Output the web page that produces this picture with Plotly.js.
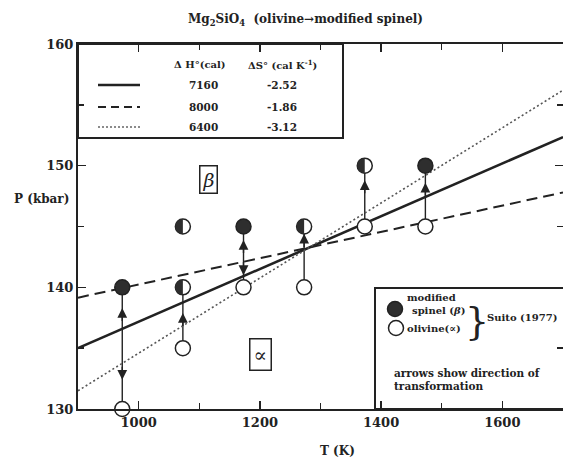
<!DOCTYPE html>
<html><head><meta charset="utf-8">
<script src="https://cdn.plot.ly/plotly-3.0.1.min.js"></script>
<style>body{margin:0;background:#fff}#chart{width:563px;height:459px}</style>
</head><body><div id="chart"></div>
<script>
// ---- data ----
const lineT = [900, 1700];
const solidP = [135.0, 152.35];
const dashedP = [139.15, 147.8];
const dottedP = [131.5, 156.2];

const betaT = [973, 1173, 1473];
const betaP = [140, 145, 150];
const halfT = [1073, 1073, 1273, 1373];
const halfP = [145, 140, 145, 150];
const alphaT = [973, 1073, 1173, 1273, 1373, 1473];
const alphaP = [130, 135, 140, 140, 145, 145];

const connT = [973, 1073, 1173, 1273, 1373, 1473];
const connLo = [130, 135, 140, 140, 145, 145];
const connHi = [140, 140, 145, 145, 150, 150];

const arrowT = [973, 973, 1073, 1173, 1173, 1273, 1373, 1473];
const arrowTipP = [138.3, 132.4, 137.9, 143.9, 141.0, 144.4, 148.8, 148.6];
const arrowDir = ['up', 'down', 'up', 'up', 'down', 'up', 'up', 'up'];

const legendH = ['7160', '8000', '6400'];
const legendS = ['-2.52', '-1.86', '-3.12'];
const xTickVals = [1000, 1200, 1400, 1600];
const yTickVals = [130, 140, 150, 160];

// ---- styling helpers ----
const INK = '#222';
const FONT = 'DejaVu Serif';
const W = 563, H = 459, L = 78, R = 0, T = 44, B = 50;
const px = x => (x - L) / (W - L - R);
const py = y => (H - B - y) / (H - T - B);
const R0 = 7.5;

const connX = [], connY = [];
connT.forEach((t, i) => { connX.push(t, t, null); connY.push(connLo[i], connHi[i], null); });

const traces = [
  {x: connX, y: connY, mode: 'lines', line: {color: INK, width: 1.4}, hoverinfo: 'skip'},
  {x: lineT, y: solidP, mode: 'lines', line: {color: INK, width: 2.6}},
  {x: lineT, y: dashedP, mode: 'lines', line: {color: INK, width: 2, dash: '11px,6px'}},
  {x: lineT, y: dottedP, mode: 'lines', line: {color: '#555', width: 1.6, dash: '2px,2.5px'}},
  {x: alphaT, y: alphaP, mode: 'markers', cliponaxis: false,
   marker: {symbol: 'circle', size: 2 * R0, color: '#fff', line: {color: INK, width: 1.5}}},
  {x: halfT, y: halfP, mode: 'markers', cliponaxis: false,
   marker: {symbol: 'circle', size: 2 * R0, color: '#fff', line: {color: INK, width: 1.5}}},
  {x: betaT, y: betaP, mode: 'markers', cliponaxis: false,
   marker: {symbol: 'circle', size: 2 * R0, color: '#2e2e2e', line: {color: INK, width: 1.5}}}
];

const k = 0.5523 * R0;
const halfPath = `M0,${R0} C${-k},${R0} ${-R0},${k} ${-R0},0 C${-R0},${-k} ${-k},${-R0} 0,${-R0} Z`;

const shapes = [];
halfT.forEach((t, i) => {
  shapes.push({type: 'path', xref: 'x', yref: 'y', xsizemode: 'pixel', ysizemode: 'pixel',
    xanchor: t, yanchor: halfP[i], path: halfPath, fillcolor: '#2e2e2e', line: {width: 0}, layer: 'above'});
});
// top-left legend box
shapes.push({type: 'rect', xref: 'paper', yref: 'paper', x0: px(78), x1: px(343), y0: py(138), y1: py(44),
  line: {color: INK, width: 2}, fillcolor: '#fff', layer: 'below'});
const rowY = [85, 107, 127];
const rowDash = ['solid', '8px,5px', '2px,2px'];
const rowW = [2.6, 2, 1.4];
const rowC = [INK, INK, '#666'];
rowY.forEach((y, i) => {
  shapes.push({type: 'line', xref: 'paper', yref: 'paper', x0: px(98), x1: px(140), y0: py(y), y1: py(y),
    line: {color: rowC[i], width: rowW[i], dash: rowDash[i]}});
});
// bottom-right legend box
shapes.push({type: 'rect', xref: 'paper', yref: 'paper', x0: px(375), x1: 1.2, y0: 0, y1: py(288),
  line: {color: INK, width: 2}, fillcolor: 'rgba(0,0,0,0)', layer: 'above'});
shapes.push({type: 'circle', xref: 'paper', yref: 'paper', xsizemode: 'pixel', ysizemode: 'pixel',
  xanchor: px(395), yanchor: py(309), x0: -R0, x1: R0, y0: -R0, y1: R0, fillcolor: '#2e2e2e', line: {color: INK, width: 1.5}});
shapes.push({type: 'circle', xref: 'paper', yref: 'paper', xsizemode: 'pixel', ysizemode: 'pixel',
  xanchor: px(396), yanchor: py(328), x0: -R0, x1: R0, y0: -R0, y1: R0, fillcolor: '#fff', line: {color: INK, width: 1.5}});

const annotations = [];
arrowT.forEach((t, i) => {
  const up = arrowDir[i] === 'up';
  annotations.push({x: t, y: arrowTipP[i], ax: t, ay: arrowTipP[i] + (up ? -1.2 : 1.2),
    xref: 'x', yref: 'y', axref: 'x', ayref: 'y', text: '', showarrow: true,
    arrowhead: 2, arrowsize: 1.4, arrowwidth: 1.4, arrowcolor: INK});
});
const tf = (size, extra) => Object.assign({family: FONT, size: size, color: INK, weight: 'bold'}, extra || {});
function txt(text, x, y, size, xanchor, extra) {
  annotations.push(Object.assign({text: text, x: px(x), y: py(y), xref: 'paper', yref: 'paper',
    showarrow: false, xanchor: xanchor || 'center', yanchor: 'middle', font: tf(size)}, extra || {}));
}
txt('Δ H°(cal)', 200, 64, 10);
txt('ΔS° (cal K<sup>-1</sup>)', 282, 64, 10);
legendH.forEach((h, i) => { txt(h, 203, rowY[i], 10.5); txt(legendS[i], 282, rowY[i], 10.5); });
txt('modified', 405, 297, 10, 'left');
txt('spinel (<i>β</i>)', 410, 310, 10, 'left');
txt('olivine(∝)', 405, 328, 10, 'left');
txt('}', 477, 321, 38, 'center', {font: {family: FONT, size: 38, color: INK, weight: 'normal'}});
txt('Suito (1977)', 485, 317, 10, 'left');
txt('arrows show direction of', 392, 373, 10.5, 'left');
txt('transformation', 392, 386, 10.5, 'left');
txt('P (kbar)', 41, 199, 12);
txt('T (K)', 337, 451, 12);
txt('Mg<sub>2</sub>SiO<sub>4</sub>&nbsp;&nbsp;(olivine→modified spinel)', 305, 20, 12);
// region labels
annotations.push({text: '<i>β</i>', x: 1115, y: 148.9, xref: 'x', yref: 'y', showarrow: false,
  font: {family: FONT, size: 19, color: INK}, bordercolor: INK, borderwidth: 1.5, borderpad: 2});
annotations.push({text: '∝', x: 1201, y: 134.5, xref: 'x', yref: 'y', showarrow: false,
  font: {family: FONT, size: 20, color: INK}, bordercolor: INK, borderwidth: 1.5, borderpad: 3});

const axisCommon = {showline: true, linecolor: INK, linewidth: 2, mirror: 'ticks', ticks: 'inside',
  tickcolor: INK, tickwidth: 1.6, ticklen: 8, showgrid: false, zeroline: false,
  tickfont: {family: FONT, size: 13, color: INK, weight: 'bold'}};

const layout = {
  width: W, height: H, margin: {l: L, r: R, t: T, b: B},
  paper_bgcolor: '#fff', plot_bgcolor: '#fff', showlegend: false,
  xaxis: Object.assign({}, axisCommon, {range: [900, 1700], tickvals: xTickVals,
    minor: {dtick: 100, tick0: 900, ticks: 'inside', ticklen: 6, tickcolor: INK, tickwidth: 1.4}}),
  yaxis: Object.assign({}, axisCommon, {range: [130, 160], tickvals: yTickVals,
    minor: {dtick: 5, tick0: 130, ticks: 'inside', ticklen: 6, tickcolor: INK, tickwidth: 1.4}}),
  shapes: shapes, annotations: annotations
};
Plotly.newPlot('chart', traces, layout, {displayModeBar: false, staticPlot: true});
</script></body></html>
